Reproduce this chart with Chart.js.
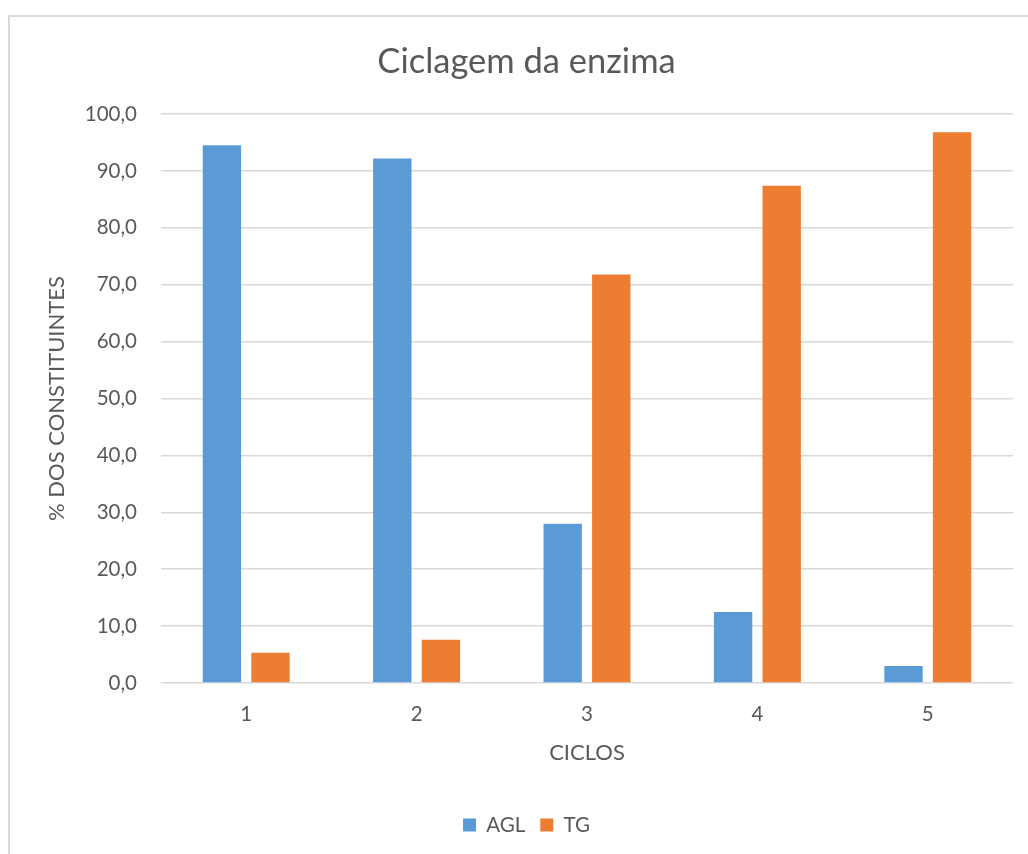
<!DOCTYPE html>
<html>
<head>
<meta charset="utf-8">
<script src="https://cdn.jsdelivr.net/npm/chart.js@4.4.1/dist/chart.umd.min.js"></script>
<style>
  html, body { margin: 0; padding: 0; background: #fff; }
  #frame { position: absolute; left: 8px; top: 15px; width: 1040px; height: 860px; border-left: 2px solid #d9d9d9; border-top: 2px solid #d9d9d9; box-sizing: border-box; }
  #wrap { position: absolute; left: 0; top: 0; width: 1028px; height: 854px; }
</style>
</head>
<body>
<div id="frame"></div>
<div id="wrap"><canvas id="c" width="1028" height="854"></canvas></div>
<script>
const categories = ['1', '2', '3', '4', '5'];
const aglValues = [94.5, 92.2, 28.0, 12.5, 3.0];
const tgValues = [5.3, 7.6, 71.8, 87.4, 96.8];
const seriesNames = ['AGL', 'TG'];
const chartTitle = 'Ciclagem da enzima';
const xTitle = 'CICLOS';
const yTitle = '% DOS CONSTITUINTES';

const FONT = 'Lato, "Liberation Sans", sans-serif';
const TXT = '#595959';

new Chart(document.getElementById('c'), {
  type: 'bar',
  data: {
    labels: categories,
    datasets: [
      { label: seriesNames[0], data: aglValues, backgroundColor: '#5b9bd5', borderWidth: 0 },
      { label: seriesNames[1], data: tgValues, backgroundColor: '#ed7d31', borderWidth: 0 }
    ]
  },
  options: {
    responsive: false,
    animation: false,
    devicePixelRatio: 1,
    categoryPercentage: 0.57,
    barPercentage: 0.79,
    layout: { padding: { left: 40, right: 15, top: 41, bottom: 8.75 } },
    plugins: {
      title: {
        display: true, text: chartTitle, color: TXT,
        font: { family: FONT, size: 34.5, weight: 'normal' },
        padding: { top: 0, bottom: 31.6 }
      },
      legend: {
        position: 'bottom',
        labels: {
          color: TXT, font: { family: FONT, size: 20.5 },
          boxWidth: 13, boxHeight: 13, padding: 15
        }
      },
      tooltip: { enabled: false }
    },
    scales: {
      x: {
        grid: { display: false },
        border: { display: false },
        ticks: { color: TXT, font: { family: FONT, size: 20.5 }, padding: 11 },
        title: { display: true, text: xTitle, color: TXT, font: { family: FONT, size: 22 }, padding: { top: 0, bottom: 34 } },
        afterFit: s => { s.height = 116.75; }
      },
      y: {
        min: 0, max: 100,
        grid: { color: '#d9d9d9', lineWidth: 1.5, drawTicks: false },
        border: { display: false },
        ticks: {
          stepSize: 10, color: TXT, font: { family: FONT, size: 20.5 }, padding: 24,
          callback: v => v.toFixed(1).replace('.', ',')
        },
        title: { display: true, text: yTitle, color: TXT, font: { family: FONT, size: 22 }, padding: { top: 4, bottom: 0 } },
        afterFit: s => { s.width = 121; }
      }
    }
  }
});
</script>
</body>
</html>
